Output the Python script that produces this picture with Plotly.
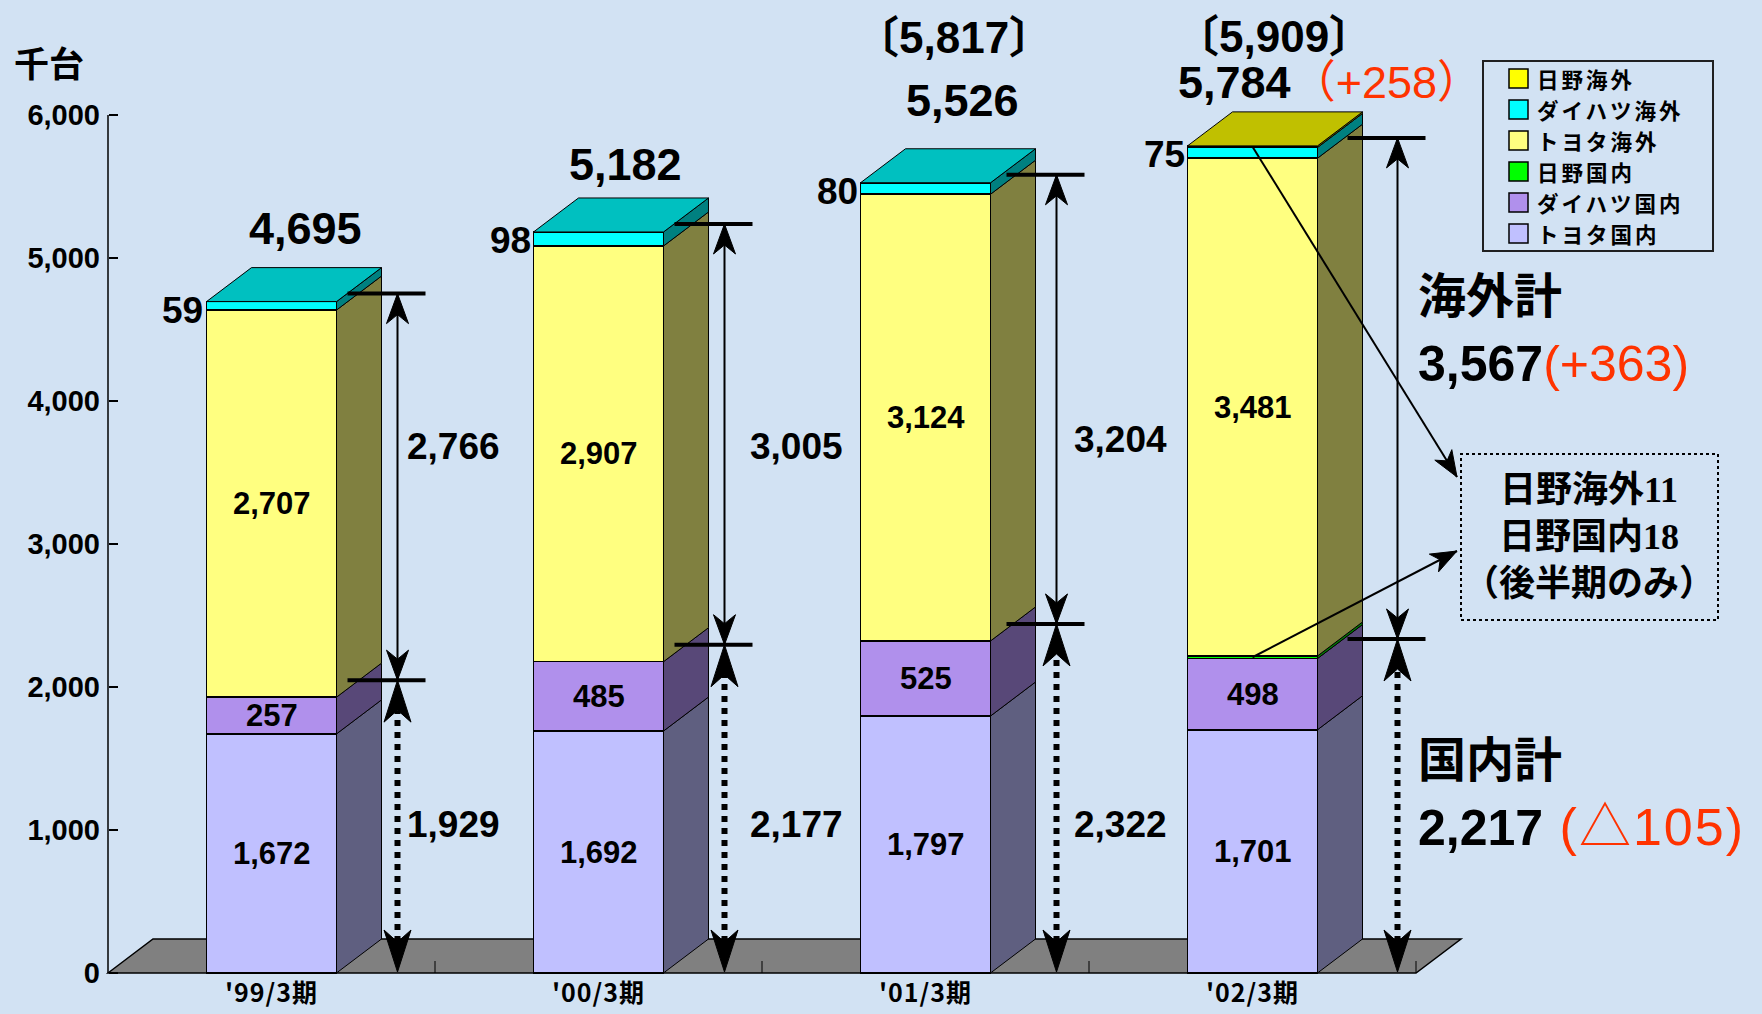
import math
import plotly.graph_objects as go

# ---------------- data ----------------
categories = ["'99/3期", "'00/3期", "'01/3期", "'02/3期"]
series_names = ["トヨタ国内", "ダイハツ国内", "日野国内", "トヨタ海外", "ダイハツ海外", "日野海外"]
toyota_domestic = [1672, 1692, 1797, 1701]
daihatsu_domestic = [257, 485, 525, 498]
hino_domestic = [0, 0, 0, 18]
toyota_overseas = [2707, 2907, 3124, 3481]
daihatsu_overseas = [59, 98, 80, 75]
hino_overseas = [0, 0, 0, 11]
bracket_totals = [None, None, 5817, 5909]
y_tick_values = [0, 1000, 2000, 3000, 4000, 5000, 6000]
y_unit_label = "千台"
overseas_title = "海外計"
domestic_title = "国内計"
callout_lines = ["日野海外11", "日野国内18", "（後半期のみ）"]

values = [toyota_domestic, daihatsu_domestic, hino_domestic,
          toyota_overseas, daihatsu_overseas, hino_overseas]

# ---------------- styles ----------------
front_colors = ["#C0C0FF", "#B090EC", "#00FF00", "#FFFF80", "#00FFFF", "#FFFF00"]
side_colors = ["#5F5F80", "#584878", "#008000", "#808040", "#008080", "#808000"]
top_colors = ["#9090C0", "#8468B0", "#00C000", "#C0C060", "#00C0C0", "#C0C000"]
BG = "#D2E2F3"
RED = "#FF3300"
NUM_FONT = "Liberation Sans, Noto Sans CJK JP"
CJK_FONT = "Noto Sans CJK JP"

W, H = 1762, 1014
X_LEFT_PX = 108.0      # pixel of category edge x=-0.5
PX_PER_CAT = 327.0
Y0_PX = 973.0          # pixel of value 0
PX_PER_UNIT = 0.143    # pixels per 1 unit (thousand cars)
XR = [-0.55, 3.72]
YR = [-20, 6300]


def dxu(px):
    return px / PX_PER_CAT


def dyu(px):
    return px / PX_PER_UNIT


def y_from_px(p):
    return (Y0_PX - p) / PX_PER_UNIT


def x_from_px(p):
    return -0.5 + (p - X_LEFT_PX) / PX_PER_CAT


def paper_y(p):
    return 1 - p / H


BAR_W = dxu(130)
DX = dxu(45)
DY = dyu(34)

n = len(categories)
xs = list(range(n))
domestic = [a + b + c for a, b, c in zip(toyota_domestic, daihatsu_domestic, hino_domestic)]
overseas = [a + b + c for a, b, c in zip(toyota_overseas, daihatsu_overseas, hino_overseas)]
totals = [d + o for d, o in zip(domestic, overseas)]

fig = go.Figure()

# ---- front faces (bars) ----
for name, vals, col in zip(series_names, values, front_colors):
    fig.add_trace(go.Bar(
        x=xs, y=vals, name=name, width=BAR_W,
        marker=dict(color=col, line=dict(color="black", width=1.5)),
        hoverinfo="skip", showlegend=False))

# ---- side faces ----
base = [0] * n
for vals, col in zip(values, side_colors):
    sx, sy = [], []
    for i, v in enumerate(vals):
        if v > 0:
            xr = xs[i] + BAR_W / 2
            y0, y1 = base[i], base[i] + v
            sx += [xr, xr + DX, xr + DX, xr, xr, None]
            sy += [y0, y0 + DY, y1 + DY, y1, y0, None]
        base[i] += v
    fig.add_trace(go.Scatter(x=sx, y=sy, mode="lines", fill="toself", fillcolor=col,
                             line=dict(color="black", width=1), hoverinfo="skip",
                             showlegend=False))

# ---- top faces ----
for i in range(n):
    top_idx = max(k for k in range(len(values)) if values[k][i] > 0)
    t = totals[i]
    xl, xr = xs[i] - BAR_W / 2, xs[i] + BAR_W / 2
    fig.add_trace(go.Scatter(
        x=[xl, xl + DX, xr + DX, xr, xl], y=[t, t + DY, t + DY, t, t],
        mode="lines", fill="toself", fillcolor=top_colors[top_idx],
        line=dict(color="black", width=1), hoverinfo="skip", showlegend=False))

# ---- dimension arrows ----
ARROW_DX_PX = [126, 126, 131, 145]
TICK_LIFT_TOTAL_PX = 8
TICK_LIFT_DOM_PX = 17
BOTTOM_TIP_PX = 1


def to_px(x, y):
    return ((x + 0.5) * PX_PER_CAT, y * PX_PER_UNIT)


def from_px(X, Y):
    return (X / PX_PER_CAT - 0.5, Y / PX_PER_UNIT)


def arrow_head(tip, tail, length, width, notch):
    TX, TY = to_px(*tip)
    SX, SY = to_px(*tail)
    ddx, ddy = TX - SX, TY - SY
    nn = math.hypot(ddx, ddy)
    ux, uy = ddx / nn, ddy / nn
    qx, qy = -uy, ux
    bx, by = TX - ux * length, TY - uy * length
    pts = [(TX, TY),
           (bx + qx * width / 2, by + qy * width / 2),
           (TX - ux * (length - notch), TY - uy * (length - notch)),
           (bx - qx * width / 2, by - qy * width / 2),
           (TX, TY)]
    conv = [from_px(*p) for p in pts]
    return [c[0] for c in conv] + [None], [c[1] for c in conv] + [None]


tick_x, tick_y = [], []
solid_x, solid_y = [], []
dot_x, dot_y = [], []
head_x, head_y = [], []

for i in range(n):
    ax = xs[i] + dxu(ARROW_DX_PX[i])
    yt = totals[i] + dyu(TICK_LIFT_TOTAL_PX)
    yd = domestic[i] + dyu(TICK_LIFT_DOM_PX)
    yb = dyu(BOTTOM_TIP_PX)
    for yy in (yt, yd):
        tick_x += [ax - dxu(50), ax + dxu(28), None]
        tick_y += [yy, yy, None]
    solid_x += [ax, ax, None]
    solid_y += [yd, yt, None]
    dot_x += [ax, ax, None]
    dot_y += [yb + dyu(30), yd - dyu(30), None]
    for tip, tail, L, Wd, N in [((ax, yt), (ax, yd), 30, 22, 9),
                                ((ax, yd), (ax, yt), 30, 22, 9),
                                ((ax, yd), (ax, yb), 42, 27, 12),
                                ((ax, yb), (ax, yd), 42, 27, 12)]:
        hx, hy = arrow_head(tip, tail, L, Wd, N)
        head_x += hx
        head_y += hy

# callout arrows (from Hino segments of the last bar to the note box)
last = n - 1
hino_ovs_mid = totals[last] - hino_overseas[last] / 2
hino_dom_mid = toyota_domestic[last] + daihatsu_domestic[last] + hino_domestic[last] / 2
callouts = [((xs[last], hino_ovs_mid), (x_from_px(1457), y_from_px(477))),
            ((xs[last], hino_dom_mid), (x_from_px(1457), y_from_px(551)))]
for tail, tip in callouts:
    solid_x += [tail[0], tip[0], None]
    solid_y += [tail[1], tip[1], None]
    hx, hy = arrow_head(tip, tail, 26, 20, 7)
    head_x += hx
    head_y += hy

fig.add_trace(go.Scatter(x=tick_x, y=tick_y, mode="lines",
                         line=dict(color="black", width=4), hoverinfo="skip", showlegend=False))
fig.add_trace(go.Scatter(x=dot_x, y=dot_y, mode="lines",
                         line=dict(color="black", width=6, dash="dot"), hoverinfo="skip",
                         showlegend=False))
fig.add_trace(go.Scatter(x=solid_x, y=solid_y, mode="lines",
                         line=dict(color="black", width=2), hoverinfo="skip", showlegend=False))
fig.add_trace(go.Scatter(x=head_x, y=head_y, mode="lines", fill="toself", fillcolor="black",
                         line=dict(color="black", width=1), hoverinfo="skip", showlegend=False))

# ---------------- shapes ----------------
shapes = []
# floor
fx0, fx1 = -0.5, n - 0.5
shapes.append(dict(type="path", xref="x", yref="y", layer="below",
                   path=f"M{fx0},0 L{fx0 + DX},{DY} L{fx1 + DX},{DY} L{fx1},0 Z",
                   fillcolor="#808080", line=dict(color="black", width=1.5)))
for k in range(n):
    shapes.append(dict(type="line", xref="x", yref="y", layer="below",
                       x0=k + 0.5, x1=k + 0.5, y0=0, y1=dyu(12),
                       line=dict(color="black", width=1)))
# y axis line
shapes.append(dict(type="line", xref="x", yref="y", x0=-0.5, x1=-0.5,
                   y0=y_tick_values[0], y1=y_tick_values[-1],
                   line=dict(color="black", width=1.5)))
# note box
shapes.append(dict(type="rect", xref="paper", yref="paper",
                   x0=1461 / W, x1=1718 / W, y0=paper_y(620), y1=paper_y(454),
                   line=dict(color="black", width=2, dash="dot")))

# ---------------- annotations ----------------
ann = []


def add_text(text, x, y, size, family=NUM_FONT, weight="bold", xanchor="center",
             yanchor="middle", xshift=0, yshift=0, xref="x", yref="y", color="black",
             align="center"):
    ann.append(dict(text=text, x=x, y=y, xref=xref, yref=yref, showarrow=False,
                    xanchor=xanchor, yanchor=yanchor, xshift=xshift, yshift=yshift,
                    align=align,
                    font=dict(family=family, size=size, color=color, weight=weight)))


# legend (drawn manually, series listed top-down in reverse stacking order)
LEG_BOX = (1483, 61, 1713, 251)
LEG_FONT = 21.5
LEG_STEP = 31.0
LEG_MID = (LEG_BOX[1] + LEG_BOX[3]) / 2
shapes.append(dict(type="rect", xref="paper", yref="paper",
                   x0=LEG_BOX[0] / W, x1=LEG_BOX[2] / W,
                   y0=paper_y(LEG_BOX[3]), y1=paper_y(LEG_BOX[1]),
                   line=dict(color="#202020", width=2)))
leg_order = list(reversed(range(len(series_names))))
for r, k in enumerate(leg_order):
    row = LEG_MID + (r - (len(leg_order) - 1) / 2) * LEG_STEP
    shapes.append(dict(type="rect", xref="paper", yref="paper",
                       x0=1509 / W, x1=1528 / W, y0=paper_y(row + 9.5), y1=paper_y(row - 9.5),
                       fillcolor=front_colors[k], line=dict(color="black", width=1.5)))
    add_text(f"<span style='letter-spacing:3px'>{series_names[k]}</span>",
             1535 / W, paper_y(row), LEG_FONT, family=CJK_FONT,
             xanchor="left", xref="paper", yref="paper", align="left")

# values inside segments
for k in (0, 1, 3):
    for i in range(n):
        bottom = sum(values[j][i] for j in range(k))
        add_text(f"{values[k][i]:,}", xs[i], bottom + values[k][i] / 2, 31)

# Daihatsu overseas values left of the bar tops
for i in range(n):
    add_text(f"{daihatsu_overseas[i]:,}", xs[i] - BAR_W / 2, totals[i], 37,
             xanchor="right", xshift=-1, yshift=-9)

# totals above bars
TOTAL_LEFT_PX = [-22, -29, -19, -74]
TOTAL_LIFT_PX = [73, 67, 82, 63]
for i in range(n):
    txt = f"{totals[i]:,}"
    if i == n - 1:
        chg = totals[i] - totals[i - 1]
        txt += f"<span style='color:{RED};font-weight:normal'>（{chg:+,}）</span>"
    add_text(txt, xs[i], totals[i], 45, xanchor="left",
             xshift=TOTAL_LEFT_PX[i] - 3, yshift=TOTAL_LIFT_PX[i])

BRACKET_DX_PX = [0, 0, 28, 21]
BRACKET_LIFT_PX = [0, 0, 145, 109]
for i in range(n):
    if bracket_totals[i] is not None:
        add_text(f"〔{bracket_totals[i]:,}〕", xs[i], totals[i], 44, weight="bold",
                 xshift=BRACKET_DX_PX[i], yshift=BRACKET_LIFT_PX[i])

# labels next to the dimension arrows
SIDE_LABEL_DX_PX = [56, 72, 64]
UPPER_LABEL_PX = [446, 446, 439]
LOWER_LABEL_PX = [824, 824, 824]
for i in range(n - 1):
    lx = xs[i] + dxu(ARROW_DX_PX[i] + SIDE_LABEL_DX_PX[i])
    add_text(f"{overseas[i]:,}", lx, y_from_px(UPPER_LABEL_PX[i]), 37)
    add_text(f"{domestic[i]:,}", lx, y_from_px(LOWER_LABEL_PX[i]), 37)


def fmt_change(v):
    return f"+{v:,}" if v >= 0 else f"△{-v:,}"


ovs_chg = overseas[-1] - overseas[-2]
dom_chg = domestic[-1] - domestic[-2]
add_text(overseas_title, 1416 / W, paper_y(292), 48, family=CJK_FONT,
         xanchor="left", xref="paper", yref="paper")
add_text(f"{overseas[-1]:,}<span style='color:{RED};font-weight:normal'>"
         f"({fmt_change(ovs_chg)})</span>",
         1416 / W, paper_y(364), 50,
         xanchor="left", xref="paper", yref="paper")
add_text(domestic_title, 1416 / W, paper_y(756), 48, family=CJK_FONT,
         xanchor="left", xref="paper", yref="paper")
add_text(f"{domestic[-1]:,}<span style='color:{RED};font-weight:normal;"
         f"letter-spacing:2px;font-size:52px'> ({fmt_change(dom_chg)})</span>",
         1416 / W, paper_y(827), 50,
         xanchor="left", xref="paper", yref="paper")

# note text
add_text("<br>".join(callout_lines), 1589 / W, paper_y(537), 36,
         family="Liberation Serif, Noto Sans CJK JP",
         xref="paper", yref="paper")

# unit label
add_text(y_unit_label, 12 / W, paper_y(62), 35, family=CJK_FONT,
         xanchor="left", xref="paper", yref="paper")

# ---------------- layout ----------------
xd0 = (X_LEFT_PX + (XR[0] + 0.5) * PX_PER_CAT) / W
xd1 = (X_LEFT_PX + (XR[1] + 0.5) * PX_PER_CAT) / W
yd0 = (H - (Y0_PX - YR[0] * PX_PER_UNIT)) / H
yd1 = (H - (Y0_PX - YR[1] * PX_PER_UNIT)) / H

fig.update_layout(
    width=W, height=H, autosize=False,
    margin=dict(l=0, r=0, t=0, b=0, pad=0, autoexpand=False),
    paper_bgcolor=BG, plot_bgcolor=BG,
    barmode="stack", hovermode=False, showlegend=False,
    shapes=shapes, annotations=ann,
    xaxis=dict(domain=[xd0, xd1], range=XR, tickmode="array", tickvals=xs,
               ticktext=[f"<span style='letter-spacing:1px'>{c}</span>" for c in categories],
               showgrid=False, zeroline=False, showline=False,
               automargin=False,
               ticks="", tickfont=dict(family=CJK_FONT, size=25, color="black",
                                       weight="bold"), fixedrange=True),
    yaxis=dict(domain=[yd0, yd1], range=YR, anchor="free", position=X_LEFT_PX / W,
               tickmode="array", tickvals=y_tick_values,
               ticktext=[f"{v:,}" for v in y_tick_values],
               showgrid=False, zeroline=False, showline=False, automargin=False,
               ticks="inside", ticklen=9, tickwidth=1.5, tickcolor="black",
               ticklabelstandoff=8,
               tickfont=dict(family=NUM_FONT, size=29, color="black", weight="bold"),
               fixedrange=True),
)

fig.write_html(
    "out.html", config={"displayModeBar": False},
    post_script=(
        "document.documentElement.style.overflow='hidden';"
        "document.body.style.margin='0px';"
        "document.body.style.overflow='hidden';"
        "document.body.style.height='1014px';"
        "var gdiv=document.getElementsByClassName('plotly-graph-div')[0];"
        "gdiv.style.position='absolute';gdiv.style.left='0px';gdiv.style.top='0px';"
    ))
